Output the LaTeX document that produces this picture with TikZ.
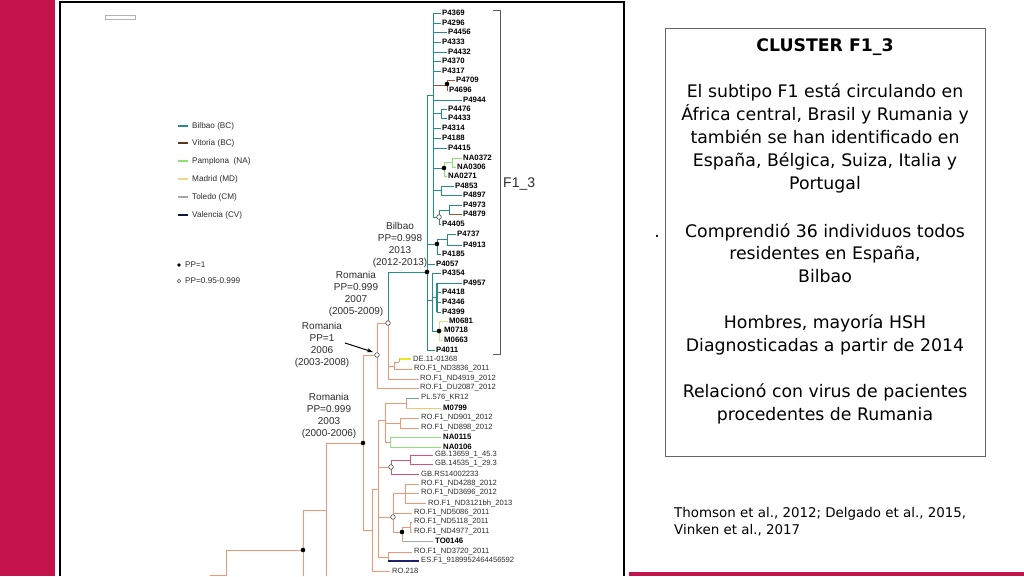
\documentclass[tikz,border=0pt]{standalone}
\usepackage{fontspec}
\setmainfont{DejaVu Sans}
\newfontfamily\arialf{Liberation Sans}
\usetikzlibrary{arrows.meta}
\definecolor{crim}{RGB}{196,18,75}
\definecolor{tealc}{RGB}{40,140,140}
\definecolor{brownc}{RGB}{150,90,60}
\definecolor{greenc}{RGB}{140,225,120}
\definecolor{yelc}{RGB}{240,215,140}
\definecolor{byel}{RGB}{235,230,40}
\definecolor{grayc}{RGB}{165,165,175}
\definecolor{navyc}{RGB}{30,35,110}
\definecolor{pinkc}{RGB}{215,80,130}
\definecolor{salc}{RGB}{242,150,120}
\definecolor{steelc}{RGB}{110,160,180}
\definecolor{txtc}{RGB}{45,45,45}
\newcommand\tfb{\arialf\bfseries\fontsize{7.8}{9}\selectfont}
\newcommand\tfr{\arialf\fontsize{7.6}{9}\selectfont}
\newcommand\clf{\arialf\fontsize{10}{12}\selectfont}
\newcommand\lgf{\arialf\fontsize{8.2}{10}\selectfont}
\newcommand\boxf{\fontsize{17.3}{23}\selectfont}
\tikzset{
  tl/.style={draw=tealc, line width=1pt},
  sal/.style={draw=salc, line width=1pt},
  tipb/.style={anchor=west, inner sep=0pt, font=\tfb, text=black},
  tipr/.style={anchor=west, inner sep=0pt, font=\tfr, text=txtc},
  clade/.style={align=center, inner sep=0pt, font=\clf, text=txtc},
  lgt/.style={anchor=west, inner sep=0pt, font=\lgf, text=txtc},
  boxt/.style={anchor=base, inner sep=0pt, font=\boxf, text=black},
  fdot/.style={fill=black},
  odot/.style={fill=white, draw=black!70, line width=0.6pt},
}
\begin{document}
\begin{tikzpicture}[x=1pt,y=-1pt]
\useasboundingbox (0,0) rectangle (1024,576);
\fill[white] (0,0) rectangle (1024,576);
% side bars
\fill[crim] (0,0) rectangle (55,576);
\fill[crim] (629,572) rectangle (1024,576);
% panel
\draw[black, line width=1.3pt] (60,576) -- (60,2) -- (624,2) -- (624,576);
\draw[gray!60] (105,15) rectangle (135,19);

% legend
\foreach \c/\t/\y [count=\i] in {tealc/Bilbao (BC)/126, brownc!60!black/Vitoria (BC)/143, greenc/Pamplona\ \ (NA)/161, yelc/Madrid (MD)/179, grayc/Toledo (CM)/197, navyc!60!black/Valencia (CV)/215}{
  \draw[\c, line width=1.2pt] (178,\y) -- (188,\y);
  \node[lgt] (lg\i) at (192,\y) {\t};
}
\fill[fdot] (179,265) circle[radius=1.8pt];
\node[lgt] (lgpp1) at (185,265) {PP=1};
\draw[odot] (179,281) circle[radius=1.8pt];
\node[lgt] (lgpp2) at (185,281) {PP=0.95-0.999};

% ---------- salmon backbone ----------
\draw[sal] (210,575) -- (226,575);
\draw[sal] (226,576) -- (226,550) -- (303,550);
\draw[sal] (303,576) -- (303,510) -- (326,510);
\draw[sal] (326,576) -- (326,443) -- (363,443);
\draw[sal] (363,355) -- (363,530);
\draw[sal] (363,355) -- (377,355);
\draw[sal] (363,530) -- (372,530);
% N06
\draw[sal] (377,323) -- (377,388);
\draw[sal] (377,323) -- (388,323);
\draw[sal] (377,388) -- (419,388);
% N07
\draw[tl] (388,272) -- (388,323);
\draw[sal] (388,323) -- (388,379) -- (419,379);
\draw[sal] (388,366) -- (394,366);
\draw[sal] (394,362) -- (394,369);
\draw[sal] (394,362) -- (399,362);
\draw[sal] (394,369) -- (412,369);
\draw[byel, line width=2pt] (399,359) -- (411,359);
\draw[sal] (399,359) -- (399,362);
\draw[tl] (388,272) -- (427,272);
% N5
\draw[sal] (372,489) -- (372,571) -- (390,571);
\draw[sal] (372,489) -- (378,489);
\draw[sal] (378,420) -- (378,557);
% N7 group
\draw[sal] (378,420) -- (385,420);
\draw[sal] (385,403) -- (385,442);
\draw[sal] (385,403) -- (406,403);
\draw[sal] (406,398) -- (406,408);
\draw[steelc, line width=1pt] (406,398) -- (419,398);
\draw[yelc!80!orange, line width=1pt] (406,408) -- (441,408);
\draw[sal] (385,423) -- (400,423);
\draw[sal] (400,418) -- (400,428);
\draw[sal] (400,418) -- (419,418);
\draw[sal] (400,428) -- (419,428);
\draw[sal] (385,442) -- (390,442);
\draw[greenc, line width=1pt] (390,437) -- (390,447);
\draw[greenc, line width=1pt] (390,437) -- (441,437);
\draw[greenc, line width=1pt] (390,447) -- (441,447);
% pink group
\draw[sal] (378,467) -- (391,467);
\draw[pinkc, line width=1pt] (391,460) -- (391,474);
\draw[pinkc, line width=1pt] (391,460) -- (410,460);
\draw[pinkc, line width=1pt] (410,455) -- (410,464);
\draw[pinkc, line width=1pt] (410,455) -- (433,455);
\draw[pinkc, line width=1pt] (410,464) -- (433,464);
\draw[pinkc, line width=1pt] (391,474) -- (419,474);
% N8 group
\draw[sal] (378,517) -- (393,517);
\draw[sal] (393,493) -- (393,532);
\draw[sal] (393,493) -- (405,493);
\draw[sal] (405,484) -- (405,503);
\draw[sal] (405,484) -- (419,484);
\draw[sal] (405,493) -- (419,493);
\draw[sal] (405,503) -- (426,503);
\draw[sal] (393,513) -- (412,513);
\draw[sal] (393,532) -- (402,532);
\draw[sal] (402,527) -- (402,541);
\draw[sal] (402,527) -- (410,527);
\draw[sal] (410,522) -- (410,532);
\draw[sal] (410,522) -- (412,522);
\draw[sal] (410,532) -- (412,532);
\draw[grayc, line width=1pt] (402,541) -- (433,541);
% N9
\draw[sal] (378,557) -- (388,557);
\draw[sal] (388,552) -- (388,561);
\draw[sal] (388,552) -- (412,552);
\draw[navyc, line width=1.2pt] (388,561) -- (419,561);

% ---------- Bilbao clade (teal) ----------
\draw[tl] (427,95) -- (427,350);
\draw[tl] (427,95) -- (433,95);
\draw[tl] (433,13) -- (433,217);
\foreach \y in {13,23,42,61,71,128,138}{\draw[tl] (433,\y) -- (441,\y);}
\foreach \y in {32,52,148}{\draw[tl] (433,\y) -- (447,\y);}
\draw[tl] (433,100) -- (462,100);
\draw[brownc, line width=1pt] (433,85) -- (447,85);
\draw[brownc, line width=1pt] (447,80) -- (447,90);
\draw[brownc, line width=1pt] (447,80) -- (455,80);
\draw[brownc, line width=1pt] (447,90) -- (448,90);
\draw[tl] (433,113) -- (441,113);
\draw[tl] (441,109) -- (441,118);
\draw[tl] (441,109) -- (447,109);
\draw[tl] (441,118) -- (447,118);
\draw[tl] (433,168) -- (444,168);
\draw[greenc, line width=1pt] (444,162) -- (444,176);
\draw[greenc, line width=1pt] (444,162) -- (452,162);
\draw[greenc, line width=1pt] (452,158) -- (452,167);
\draw[greenc, line width=1pt] (452,158) -- (462,158);
\draw[greenc, line width=1pt] (452,167) -- (456,167);
\draw[greenc, line width=1pt] (444,176) -- (447,176);
\draw[tl] (433,190) -- (441,190);
\draw[tl] (441,186) -- (441,195);
\draw[tl] (441,186) -- (454,186);
\draw[tl] (441,195) -- (462,195);
\draw[tl] (433,217) -- (439,217);
\draw[tl] (439,210) -- (439,224);
\draw[tl] (439,210) -- (449,210);
\draw[tl] (449,205) -- (449,214);
\draw[tl] (449,205) -- (462,205);
\draw[brownc, line width=1pt] (449,214) -- (462,214);
\draw[tl] (439,224) -- (441,224);
\draw[tl] (427,244) -- (437,244);
\draw[tl] (437,239) -- (437,254);
\draw[tl] (437,239) -- (447,239);
\draw[tl] (447,234) -- (447,245);
\draw[tl] (447,234) -- (456,234);
\draw[tl] (447,245) -- (462,245);
\draw[tl] (437,254) -- (441,254);
\draw[tl] (427,264) -- (435,264);
\draw[tl] (427,300) -- (432,300);
\draw[tl] (432,273) -- (432,331);
\draw[tl] (432,273) -- (441,273);
\draw[tl] (432,297) -- (437,297);
\draw[tl, line width=1.6pt] (437,283) -- (437,312);
\draw[tl] (437,283) -- (462,283);
\foreach \y in {292,302,312}{\draw[tl] (437,\y) -- (441,\y);}
\draw[tl] (432,331) -- (439,331);
\draw[yelc, line width=1pt] (439,321) -- (439,340);
\draw[yelc, line width=1pt] (439,321) -- (448,321);
\draw[yelc, line width=1pt] (439,330) -- (443,330);
\draw[yelc, line width=1pt] (439,340) -- (443,340);
\draw[tl] (427,350) -- (435,350);

% node markers
\foreach \p in {(303,550),(363,443),(427,272),(447,84),(444,168),(437,244),(439,331),(402,532)}{\fill[fdot] \p circle[radius=2.3pt];}
\foreach \p in {(377,355),(388,323),(439,217),(391,467),(393,517)}{\draw[odot] \p circle[radius=2.3pt];}

% tip labels bold
\foreach \t/\x/\y [count=\i] in {P4369/442/13, P4296/442/23, P4456/448/32, P4333/442/42, P4432/448/52, P4370/442/61, P4317/442/71, P4709/456/80, P4696/449/90, P4944/463/100, P4476/448/109, P4433/448/118, P4314/442/128, P4188/442/138, P4415/448/148, NA0372/463/158, NA0306/457/167, NA0271/448/176, P4853/455/186, P4897/463/195, P4973/463/205, P4879/463/214, P4405/442/224, P4737/457/234, P4913/463/245, P4185/442/254, P4057/436/264, P4354/442/273, P4957/463/283, P4418/442/292, P4346/442/302, P4399/442/312, M0681/449/321, M0718/444/330, M0663/444/340, P4011/436/350, M0799/443/408, NA0115/443/437, NA0106/443/447, TO0146/435/541}{
  \node[tipb] (tb\i) at (\x,\y) {\t};
}
% tip labels regular
\foreach \t/\x/\y [count=\i] in {DE.11-01368/413/359, RO.F1\_ND3836\_2011/414/369, RO.F1\_ND4919\_2012/420/379, RO.F1\_DU2087\_2012/420/388, PL.576\_KR12/421/398, RO.F1\_ND901\_2012/421/418, RO.F1\_ND898\_2012/421/428, GB.13659\_1\_45.3/435/455, GB.14535\_1\_29.3/435/464, GB.RS14002233/421/474, RO.F1\_ND4288\_2012/421/484, RO.F1\_ND3696\_2012/421/493, RO.F1\_ND3121bh\_2013/428/503, RO.F1\_ND5086\_2011/414/513, RO.F1\_ND5118\_2011/414/522, RO.F1\_ND4977\_2011/414/532, RO.F1\_ND3720\_2011/414/552, ES.F1\_9189952464456592/421/561, RO.218/392/571}{
  \node[tipr] (tr\i) at (\x,\y) {\t};
}

% bracket
\draw[black!65, line width=1pt] (493,10) -- (500,10) -- (500,354) -- (493,354);
\node[anchor=west, inner sep=0pt, font=\arialf\fontsize{14}{16}\selectfont, text=txtc] (f13) at (503,184) {F1\_3};

% clade labels
\node[clade] (cB) at (400,245) {Bilbao\\PP=0.998\\2013\\(2012-2013)};
\node[clade] (cR7) at (356,294) {Romania\\PP=0.999\\2007\\(2005-2009)};
\node[clade] (cR6) at (322,345) {Romania\\PP=1\\2006\\(2003-2008)};
\node[clade] (cR3) at (329,416) {Romania\\PP=0.999\\2003\\(2000-2006)};
\coordinate (arrS) at (345,343);
\coordinate (arrE) at (373,352);
\draw[-{Stealth[length=6pt,width=4pt]}, line width=1pt] (arrS) -- (arrE);

% right text box
\draw[black!60, line width=0.8pt] (665,28) rectangle (985,456);
\node[boxt, font=\boxf\bfseries] (b0) at (825,51) {CLUSTER F1\_3};
\foreach \t/\y [count=\i] in {El subtipo F1 está circulando en/97, África central{,} Brasil y Rumania y/120, también se han identificado en/143, España{,} Bélgica{,} Suiza{,} Italia y/166, Portugal/189, Comprendió 36 individuos todos/237, residentes en España{,}/259, Bilbao/282, Hombres{,} mayoría HSH/328, Diagnosticadas a partir de 2014/351, Relacionó con virus de pacientes/397, procedentes de Rumania/420}{
  \node[boxt] (b\i) at (825,\y) {\t};
}
\node[inner sep=0pt, font=\boxf] (dot) at (657,236) {.};
\node[anchor=base west, inner sep=0pt, font=\fontsize{13.4}{17}\selectfont] (ref1) at (674,517) {Thomson et al., 2012; Delgado et al., 2015,};
\node[anchor=base west, inner sep=0pt, font=\fontsize{13.4}{17}\selectfont] (ref2) at (674,534) {Vinken et al., 2017};
\end{tikzpicture}
\end{document}
